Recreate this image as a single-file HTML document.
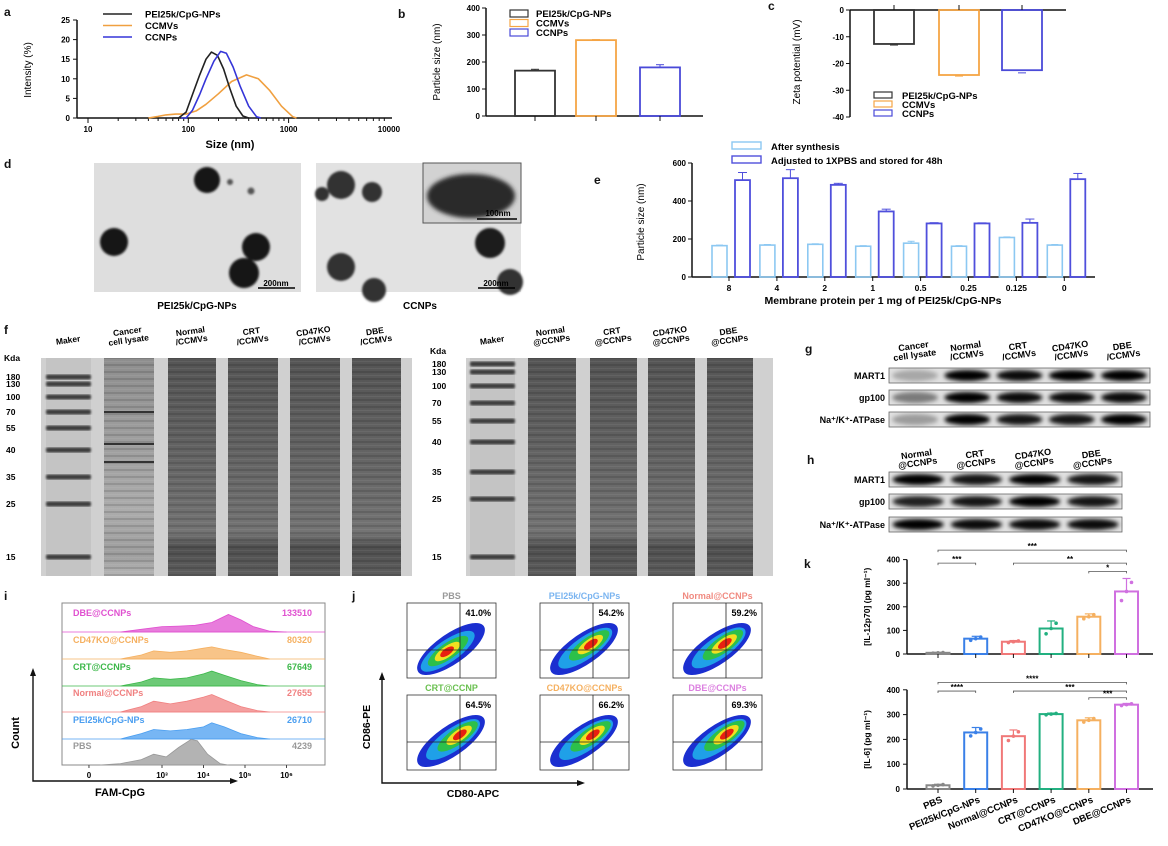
<!DOCTYPE html>
<html><head><meta charset="utf-8"><style>
html,body{margin:0;padding:0;background:#fff;width:1168px;height:846px;overflow:hidden}
svg{display:block;font-family:"Liberation Sans",Arial,sans-serif;font-weight:bold}
</style></head><body>
<svg id="fig" width="1168" height="846" viewBox="0 0 1168 846" xmlns="http://www.w3.org/2000/svg">
<defs>
<filter id="blur1"><feGaussianBlur stdDeviation="1"/></filter>
<filter id="blur2"><feGaussianBlur stdDeviation="2.2"/></filter>
<pattern id="stripes" width="6" height="7" patternUnits="userSpaceOnUse"><rect width="6" height="2" fill="#000" opacity="0.12"/><rect y="4" width="6" height="1" fill="#fff" opacity="0.06"/></pattern>
<linearGradient id="laneG" x1="0" y1="0" x2="0" y2="1"><stop offset="0" stop-color="#555"/><stop offset="0.4" stop-color="#626262"/><stop offset="0.8" stop-color="#747474"/><stop offset="0.87" stop-color="#505050"/><stop offset="1" stop-color="#5e5e5e"/></linearGradient>
<linearGradient id="lysG" x1="0" y1="0" x2="0" y2="1"><stop offset="0" stop-color="#8e8e8e"/><stop offset="0.7" stop-color="#acacac"/><stop offset="0.9" stop-color="#9e9e9e"/><stop offset="1" stop-color="#b4b4b4"/></linearGradient>
</defs>
<rect width="1168" height="846" fill="#fff"/>

<g font-size="12" fill="#111">
<text x="4" y="16">a</text><text x="398" y="18">b</text><text x="768" y="10">c</text>
<text x="4" y="168">d</text><text x="594" y="184">e</text><text x="4" y="334">f</text>
<text x="805" y="353">g</text><text x="807" y="464">h</text><text x="4" y="600">i</text>
<text x="352" y="600">j</text><text x="804" y="568">k</text>
</g>

<g id="pa"></g>
<g id="pb"></g>
<g id="pc"></g>

<g>
<rect x="94" y="163" width="207" height="129" fill="#dedede"/>
<g fill="#151515" filter="url(#blur1)">
<circle cx="207" cy="180" r="13"/><circle cx="114" cy="242" r="14"/><circle cx="256" cy="247" r="14"/><circle cx="244" cy="273" r="15"/><circle cx="230" cy="182" r="3" fill="#555"/><circle cx="251" cy="191" r="3.5" fill="#555"/>
</g>
<rect x="316" y="163" width="205" height="129" fill="#e2e2e2"/>
<g fill="#303030" filter="url(#blur1)">
<circle cx="341" cy="185" r="14"/><circle cx="322" cy="194" r="7"/><circle cx="372" cy="192" r="10"/><circle cx="490" cy="243" r="15" fill="#1c1c1c"/><circle cx="341" cy="267" r="14"/><circle cx="510" cy="282" r="13"/><circle cx="374" cy="290" r="12"/>
</g>
<rect x="423" y="163" width="98" height="60" fill="#d2d2d2" stroke="#555" stroke-width="1"/>
<ellipse cx="471" cy="196" rx="44" ry="22" fill="#2a2a2a" filter="url(#blur2)"/>
<line x1="477" y1="219" x2="517" y2="219" stroke="#000" stroke-width="1.5"/>
<text x="498" y="216" font-size="8" text-anchor="middle">100nm</text>
<line x1="258" y1="288" x2="295" y2="288" stroke="#000" stroke-width="1.5"/>
<text x="276" y="286" font-size="8" text-anchor="middle">200nm</text>
<line x1="478" y1="288" x2="515" y2="288" stroke="#000" stroke-width="1.5"/>
<text x="496" y="286" font-size="8" text-anchor="middle">200nm</text>
<text x="197" y="309" font-size="10" text-anchor="middle">PEI25k/CpG-NPs</text>
<text x="420" y="309" font-size="10" text-anchor="middle">CCNPs</text>
</g>

<g id="pe"></g>
<g id="pf"></g>
<g id="pg"></g>
<g id="pi"></g>
<g id="pj"></g>
<g id="pk"></g>
</svg>
<script>
const NS="http://www.w3.org/2000/svg";
function el(tag,attrs,parent,txt){const e=document.createElementNS(NS,tag);for(const k in attrs)e.setAttribute(k,attrs[k]);if(txt!==undefined)e.textContent=txt;parent.appendChild(e);return e;}
function pts(a){return a.map(p=>p[0].toFixed(1)+","+p[1].toFixed(1)).join(" ");}

const aBlackSize=[70,80,95,110,130,150,170,195,225,260,300,350,400];
const aBlackInt=[0,0,1.5,6,11,15,16.8,16,12.5,7.5,3,0.5,0];
const aBlueSize=[85,95,110,130,150,180,210,240,280,330,400,480,530];
const aBlueInt=[0,0,2,6,10,14.5,17,16.5,13,8,3,0.3,0];
const aOrangeSize=[40,50,60,75,95,120,150,200,270,380,500,650,850,1100,1200];
const aOrangeInt=[0,0.4,0.8,1,1,1.8,3.5,6.2,9.3,11,10,7,3,0.3,0];
const aYTicks=[0,5,10,15,20,25];
const aXTicks=[10,100,1000,10000];
(function(){
 const g=document.getElementById('pa');
 const X=v=>88+(Math.log10(v)-1)*100.3, Y=v=>118-v*(98/25);
 let ax=el('line',{x1:77,y1:20,x2:77,y2:118,stroke:'#111','stroke-width':1.5},g);
 
 
 let bx=el('line',{x1:77,y1:118,x2:392,y2:118,stroke:'#111','stroke-width':1.5},g);
 
 
 aYTicks.forEach(t=>{el('line',{x1:73,x2:77,y1:Y(t),y2:Y(t),stroke:'#111'},g);
  const tl=el('text',{x:70,y:Y(t)+3,'font-size':8,'text-anchor':'end'},g,t);
  
  });
 for(let d=10;d<10000;d*=10){for(let m=1;m<10;m++){const x=X(d*m);el('line',{x1:x,x2:x,y1:118,y2:m==1?123:121,stroke:'#111'},g);}}
 aXTicks.forEach(t=>{const tl=el('text',{x:X(t),y:132,'font-size':8,'text-anchor':'middle'},g,t);
  
  });
 const xt=el('text',{x:230,y:148,'font-size':11,'text-anchor':'middle'},g,'Size (nm)');
 
 
 const yt=el('text',{x:0,y:0,'font-size':10,'text-anchor':'middle','font-weight':'normal',transform:'translate(31,70) rotate(-90)'},g,'Intensity (%)');
 
 
 const series=[[aOrangeSize,aOrangeInt,'#f0a040','ccmvs'],[aBlackSize,aBlackInt,'#222','pei-nps'],[aBlueSize,aBlueInt,'#3535d8','ccnps']];
 series.forEach(s=>{const p=el('polyline',{points:pts(s[0].map((v,i)=>[X(v),Y(s[1][i])])),fill:'none',stroke:s[2],'stroke-width':1.6,'stroke-linejoin':'round'},g);
  
  });
 const leg=[['PEI25k/CpG-NPs','#222'],['CCMVs','#f0a040'],['CCNPs','#3535d8']];
 leg.forEach((l,i)=>{const y=14+i*11.5;el('line',{x1:103,x2:132,y1:y,y2:y,stroke:l[1],'stroke-width':1.6},g);
  const t=el('text',{x:145,y:y+3.5,'font-size':9.5},g,l[0]);
  
  });
})();

const bCats=['PEI25k/CpG-NPs','CCMVs','CCNPs'];
const bVals=[168,281,180];
const bErr=[5,2,10];
const bTicks=[0,100,200,300,400];
const bColors=['#333','#f5a545','#4a4ad8'];
(function(){
 const g=document.getElementById('pb');
 const Y=v=>116-v*(108/400);const cx=[535,596,660];
 el('line',{x1:486,y1:8,x2:486,y2:116,stroke:'#111','stroke-width':1.5},g);
 el('line',{x1:486,y1:116,x2:703,y2:116,stroke:'#111','stroke-width':1.5},g);
 bTicks.forEach(t=>{el('line',{x1:482,x2:486,y1:Y(t),y2:Y(t),stroke:'#111'},g);
  const tl=el('text',{x:480,y:Y(t)+3,'font-size':8,'text-anchor':'end'},g,t);
  
  });
 bVals.forEach((v,i)=>{const r=el('rect',{x:cx[i]-20,y:Y(v),width:40,height:116-Y(v),fill:'none',stroke:bColors[i],'stroke-width':1.8},g);
  
  
  el('line',{x1:cx[i],x2:cx[i],y1:Y(v),y2:Y(v+bErr[i]),stroke:bColors[i]},g);
  el('line',{x1:cx[i]-4,x2:cx[i]+4,y1:Y(v+bErr[i]),y2:Y(v+bErr[i]),stroke:bColors[i]},g);
  el('line',{x1:cx[i],x2:cx[i],y1:116,y2:121,stroke:'#111'},g);});
 const yt=el('text',{x:0,y:0,'font-size':10,'font-weight':'normal','text-anchor':'middle',transform:'translate(440,62) rotate(-90)'},g,'Particle size (nm)');
 
 
 bCats.forEach((c,i)=>{const y=10+i*9.5;el('rect',{x:510,y:y,width:18,height:7,fill:'none',stroke:bColors[i],'stroke-width':1.2},g);
  const t=el('text',{x:536,y:y+7,'font-size':9.5},g,c);
  
  });
})();

const cCats=['PEI25k/CpG-NPs','CCMVs','CCNPs'];
const cVals=[-12.7,-24.3,-22.5];
const cErr=[0.4,0.4,1];
const cTicks=[0,-10,-20,-30,-40];
(function(){
 const g=document.getElementById('pc');
 const Y=v=>10-v*(107/40);const cx=[894,959,1022];
 el('line',{x1:850,y1:10,x2:850,y2:117,stroke:'#111','stroke-width':1.5},g);
 el('line',{x1:850,y1:10,x2:1066,y2:10,stroke:'#111','stroke-width':1.5},g);
 cTicks.forEach(t=>{el('line',{x1:846,x2:850,y1:Y(t),y2:Y(t),stroke:'#111'},g);
  const tl=el('text',{x:844,y:Y(t)+3,'font-size':8,'text-anchor':'end'},g,t);
  
  });
 cVals.forEach((v,i)=>{const r=el('rect',{x:cx[i]-20,y:10,width:40,height:Y(v)-10,fill:'none',stroke:bColors[i],'stroke-width':1.8},g);
  
  
  el('line',{x1:cx[i]-4,x2:cx[i]+4,y1:Y(v-cErr[i]),y2:Y(v-cErr[i]),stroke:bColors[i]},g);
  el('line',{x1:cx[i],x2:cx[i],y1:5,y2:10,stroke:'#111'},g);});
 const yt=el('text',{x:0,y:0,'font-size':10,'font-weight':'normal','text-anchor':'middle',transform:'translate(800,62) rotate(-90)'},g,'Zeta potential (mV)');
 
 
 cCats.forEach((c,i)=>{const y=92+i*9;el('rect',{x:874,y:y,width:18,height:6,fill:'none',stroke:bColors[i],'stroke-width':1.2},g);
  const t=el('text',{x:902,y:y+7,'font-size':9.5},g,c);
  
  });
})();

const eCats=['8','4','2','1','0.5','0.25','0.125','0'];
const eAfter=[165,168,172,162,178,162,208,168];
const eAfterErr=[3,3,3,3,10,3,3,3];
const eStored=[510,520,485,345,282,282,285,515];
const eStoredErr=[40,45,8,12,4,3,20,30];
const eTicks=[0,200,400,600];
(function(){
 const g=document.getElementById('pe');
 const Y=v=>277-v*(114/600);const G=i=>729+i*47.9;
 el('line',{x1:692,y1:163,x2:692,y2:277,stroke:'#111','stroke-width':1.5},g);
 el('line',{x1:692,y1:277,x2:1095,y2:277,stroke:'#111','stroke-width':1.5},g);
 eTicks.forEach(t=>{el('line',{x1:688,x2:692,y1:Y(t),y2:Y(t),stroke:'#111'},g);
  const tl=el('text',{x:686,y:Y(t)+3,'font-size':8,'text-anchor':'end'},g,t);
  
  });
 eCats.forEach((c,i)=>{const x=G(i);
  const a=el('rect',{x:x-17,y:Y(eAfter[i]),width:15,height:277-Y(eAfter[i]),fill:'none',stroke:'#8cc8f2','stroke-width':1.6},g);
  
  
  el('line',{x1:x-9.5,x2:x-9.5,y1:Y(eAfter[i]),y2:Y(eAfter[i]+eAfterErr[i]),stroke:'#8cc8f2'},g);
  el('line',{x1:x-13,x2:x-6,y1:Y(eAfter[i]+eAfterErr[i]),y2:Y(eAfter[i]+eAfterErr[i]),stroke:'#8cc8f2'},g);
  const b=el('rect',{x:x+6,y:Y(eStored[i]),width:15,height:277-Y(eStored[i]),fill:'none',stroke:'#4f4fdc','stroke-width':1.8},g);
  
  
  el('line',{x1:x+13.5,x2:x+13.5,y1:Y(eStored[i]),y2:Y(eStored[i]+eStoredErr[i]),stroke:'#4f4fdc'},g);
  el('line',{x1:x+9,x2:x+18,y1:Y(eStored[i]+eStoredErr[i]),y2:Y(eStored[i]+eStoredErr[i]),stroke:'#4f4fdc'},g);
  el('line',{x1:x,x2:x,y1:277,y2:281,stroke:'#111'},g);
  const tl=el('text',{x:x,y:291,'font-size':8.5,'text-anchor':'middle'},g,c);
  
  });
 const xt=el('text',{x:883,y:304,'font-size':10.5,'text-anchor':'middle'},g,'Membrane protein per 1 mg of PEI25k/CpG-NPs');
 
 
 const yt=el('text',{x:0,y:0,'font-size':10,'font-weight':'normal','text-anchor':'middle',transform:'translate(644,222) rotate(-90)'},g,'Particle size (nm)');
 
 
 [['After synthesis','#8cc8f2'],['Adjusted to 1XPBS and stored for 48h','#4f4fdc']].forEach((l,i)=>{const y=142+i*14;
  el('rect',{x:732,y:y,width:29,height:7,fill:'none',stroke:l[1],'stroke-width':1.4},g);
  const t=el('text',{x:771,y:y+8,'font-size':9.5},g,l[0]);
  
  });
})();

const fMarkers=['180','130','100','70','55','40','35','25','15'];
(function(){
 const g=document.getElementById('pf');
 function gel(x0,x1,lanes,labels,mY,labX,kdaY){
  el('rect',{x:x0,y:358,width:x1-x0,height:218,fill:'#d0d0d0'},g);
  lanes.forEach((ln,i)=>{
   if(i===0){el('rect',{x:ln[0],y:358,width:ln[1]-ln[0],height:218,fill:'#c4c4c4'},g);
    mY.forEach(y=>{el('rect',{x:ln[0],y:y-2.5,width:ln[1]-ln[0],height:5,rx:2,fill:'#3c3c3c',filter:'url(#blur1)'},g);});}
   else{const lane=el('rect',{x:ln[0],y:358,width:ln[1]-ln[0],height:218,fill:ln[2]?'url(#lysG)':'url(#laneG)'},g);
    
    
    el('rect',{x:ln[0],y:358,width:ln[1]-ln[0],height:218,fill:'url(#stripes)'},g);
    if(ln[2]){[412,444,462].forEach(y=>el('rect',{x:ln[0],y:y-1,width:ln[1]-ln[0],height:2,fill:'#333'},g));}}
  });
  labels.forEach((l,i)=>{const c=(lanes[i][0]+lanes[i][1])/2;
   const t=el('text',{x:0,y:0,'font-size':8.5,'text-anchor':'middle',transform:'translate('+c+',343) rotate(-8)'},g);
   l.forEach((s,j)=>el('tspan',{x:0,dy:j?9:(l.length>1?-9:0)},t,s));
   
   });
  el('text',{x:labX,y:kdaY,'font-size':8.5},g,'Kda');
  fMarkers.forEach((m,i)=>{const t=el('text',{x:labX+2,y:mY[i]+3,'font-size':8.5},g,m);
   
   });
 }
 gel(41,412,[[46,91],[104,154,1],[168,216],[228,278],[290,340],[352,401]],
  [['Maker'],['Cancer','cell lysate'],['Normal','/CCMVs'],['CRT','/CCMVs'],['CD47KO','/CCMVs'],['DBE','/CCMVs']],
  [377,384,397,412,428,450,477,504,557],4,361);
 gel(466,773,[[470,515],[528,576],[590,637],[648,695],[707,753]],
  [['Maker'],['Normal','@CCNPs'],['CRT','@CCNPs'],['CD47KO','@CCNPs'],['DBE','@CCNPs']],
  [364,372,386,403,421,442,472,499,557],430,354);
})();

const gIntensity=[[0.25,1,0.95,1,1],[0.45,1,0.95,0.95,0.95],[0.3,1,0.9,0.9,1]];
const hIntensity=[[1,0.9,1,0.9],[0.85,0.9,1,0.9],[1,0.95,0.95,0.95]];
const blotRows=['MART1','gp100','Na\u207A/K\u207A-ATPase'];
(function(){
 const g=document.getElementById('pg');
 function blot(x0,x1,ys,inten,labels,labY){
  const n=inten[0].length,w=(x1-x0)/n;
  ys.forEach((y,r)=>{el('rect',{x:x0,y:y,width:x1-x0,height:15,fill:'#e0e0e0',stroke:'#666','stroke-width':0.8},g);
   const t=el('text',{x:x0-4,y:y+11,'font-size':9,'text-anchor':'end'},g,blotRows[r]);
   
   
   inten[r].forEach((v,i)=>{const b=el('ellipse',{cx:x0+w*(i+0.5),cy:y+7.5,rx:w*0.44,ry:5.5,fill:'#000',opacity:v,filter:'url(#blur2)'},g);
    
    });});
  labels.forEach((l,i)=>{const t=el('text',{x:0,y:0,'font-size':9,'text-anchor':'middle',transform:'translate('+(x0+w*(i+0.5))+','+labY+') rotate(-8)'},g);
   l.forEach((s,j)=>el('tspan',{x:0,dy:j?9:-9},t,s));
   
   });
 }
 blot(889,1150,[368,390,412],gIntensity,[['Cancer','cell lysate'],['Normal','/CCMVs'],['CRT','/CCMVs'],['CD47KO','/CCMVs'],['DBE','/CCMVs']],358);
 blot(889,1122,[472,494,517],hIntensity,[['Normal','@CCNPs'],['CRT','@CCNPs'],['CD47KO','@CCNPs'],['DBE','@CCNPs']],466);
})();

const iNames=['DBE@CCNPs','CD47KO@CCNPs','CRT@CCNPs','Normal@CCNPs','PEI25k/CpG-NPs','PBS'];
const iMFI=['133510','80320','67649','27655','26710','4239'];
const iColors=['#e050d0','#f5b060','#3cb84a','#f08080','#4a9ef0','#999999'];
const iLog=[[2,2.5,3,3.4,3.8,4.2,4.6,4.9,5.2,5.6,6],[2,2.5,2.8,3.2,3.6,4,4.2,4.5,4.9,5.3,5.6],[2,2.5,2.8,3.2,3.6,4,4.2,4.5,4.9,5.3,5.6],[2,2.5,2.8,3.2,3.6,4,4.2,4.5,4.9,5.3,5.6],[2,2.5,2.8,3.2,3.6,4,4.2,4.5,4.9,5.3,5.6],[1.5,2,2.5,2.8,3.1,3.4,3.7,3.85,4.1,4.4,4.6]];
const iHeight=[[0,0.1,0.2,0.22,0.25,0.35,0.65,0.45,0.2,0.03,0],[0,0.15,0.3,0.25,0.3,0.4,0.45,0.35,0.25,0.1,0],[0,0.15,0.3,0.25,0.3,0.45,0.55,0.4,0.2,0.05,0],[0,0.2,0.4,0.3,0.4,0.55,0.65,0.45,0.2,0.05,0],[0,0.2,0.35,0.3,0.35,0.45,0.6,0.45,0.2,0.05,0],[0,0.05,0.2,0.4,0.3,0.65,0.95,0.9,0.4,0.05,0]];
const iTicks=['0','10\u00B3','10\u2074','10\u2075','10\u2076'];
const iTickVals=[1.24,3,4,5,6];
(function(){
 const g=document.getElementById('pi');
 const X=u=>162+(u-3)*41.5;const base=[632,659,686,712,739,765];
 el('rect',{x:62,y:603,width:263,height:162,fill:'#fff',stroke:'#888','stroke-width':1},g);
 iNames.forEach((n,r)=>{const b=base[r];
  const poly=[[X(iLog[r][0]),b]].concat(iLog[r].map((u,k)=>[X(u),b-iHeight[r][k]*27]));poly.push([X(iLog[r][iLog[r].length-1]),b]);
  const p=el('polygon',{points:pts(poly),fill:iColors[r],'fill-opacity':0.75,stroke:iColors[r],'stroke-width':0.8},g);
  
  
  if(r<5)el('line',{x1:62,x2:325,y1:b,y2:b,stroke:iColors[r],'stroke-width':0.8},g);
  const t=el('text',{x:73,y:b-16,'font-size':9,fill:iColors[r]},g,n);
  
  
  const v=el('text',{x:312,y:b-16,'font-size':9,fill:iColors[r],'text-anchor':'end'},g,iMFI[r]);
  
  });
 iTicks.forEach((t,k)=>{const x=X(iTickVals[k]);el('line',{x1:x,x2:x,y1:765,y2:768,stroke:'#444'},g);
  const tl=el('text',{x:x,y:778,'font-size':8,'text-anchor':'middle'},g,t);
  
  });
 el('polyline',{points:'33,673 33,781 233,781',fill:'none',stroke:'#111','stroke-width':1.4},g);
 el('polygon',{points:'30,676 33,668 36,676',fill:'#111'},g);
 el('polygon',{points:'230,778 238,781 230,784',fill:'#111'},g);
 const yt=el('text',{x:0,y:0,'font-size':11,'text-anchor':'middle',transform:'translate(19,733) rotate(-90)'},g,'Count');
 
 
 const xt=el('text',{x:120,y:796,'font-size':11,'text-anchor':'middle'},g,'FAM-CpG');
 
 
})();

const jNames=['PBS','PEI25k/CpG-NPs','Normal@CCNPs','CRT@CCNP','CD47KO@CCNPs','DBE@CCNPs'];
const jPct=['41.0%','54.2%','59.2%','64.5%','66.2%','69.3%'];
const jNameColors=['#999','#7ab4f0','#f08a80','#6ac050','#f5b060','#dc80e0'];
const jShift=[-0.2,0.35,0.4,0.45,0.45,0.5];
(function(){
 const g=document.getElementById('pj');
 const cols=[407,540,673],rows=[603,695];
 jNames.forEach((n,k)=>{const x0=cols[k%3],y0=rows[Math.floor(k/3)],w=89,h=75;
  const cid='clip'+k;const cp=el('clipPath',{id:cid},g);el('rect',{x:x0,y:y0,width:w,height:h},cp);
  el('rect',{x:x0,y:y0,width:w,height:h,fill:'#fff',stroke:'#333','stroke-width':0.8},g);
  const qx=x0+53,qy=y0+47;const s=jShift[k];
  const gg=el('g',{'clip-path':'url(#'+cid+')',transform:'rotate(-35 '+(x0+44)+' '+(y0+46)+')'},g);
  
  
  el('ellipse',{cx:x0+44,cy:y0+46,rx:40,ry:15,fill:'#1b2fd0'},gg);
  el('ellipse',{cx:x0+42+s*10,cy:y0+46,rx:32,ry:11,fill:'#1fa0e8'},gg);
  el('ellipse',{cx:x0+44+s*18,cy:y0+46,rx:24,ry:8,fill:'#2cc04a'},gg);
  el('ellipse',{cx:x0+44+s*22,cy:y0+46,rx:15,ry:5.5,fill:'#f0e020'},gg);
  el('ellipse',{cx:x0+44+s*24,cy:y0+46,rx:8,ry:3.5,fill:'#e82010'},gg);
  el('line',{x1:qx,x2:qx,y1:y0,y2:y0+h,stroke:'#222','stroke-width':0.8},g);
  el('line',{x1:x0,x2:x0+w,y1:qy,y2:qy,stroke:'#222','stroke-width':0.8},g);
  const t=el('text',{x:x0+w/2,y:y0-4,'font-size':9,'text-anchor':'middle',fill:jNameColors[k]},g,n);
  
  
  const p=el('text',{x:x0+w-5,y:y0+13,'font-size':9,'text-anchor':'end'},g,jPct[k]);
  
  });
 el('polyline',{points:'382,677 382,783 580,783',fill:'none',stroke:'#111','stroke-width':1.4},g);
 el('polygon',{points:'379,680 382,672 385,680',fill:'#111'},g);
 el('polygon',{points:'577,780 585,783 577,786',fill:'#111'},g);
 const yt=el('text',{x:0,y:0,'font-size':10.5,'text-anchor':'middle',transform:'translate(370,727) rotate(-90)'},g,'CD86-PE');
 
 
 const xt=el('text',{x:473,y:797,'font-size':10.5,'text-anchor':'middle'},g,'CD80-APC');
 
 
})();

const kCats=['PBS','PEI25k/CpG-NPs','Normal@CCNPs','CRT@CCNPs','CD47KO@CCNPs','DBE@CCNPs'];
const kColors=['#888','#3a80e8','#f07878','#22b080','#f5b060','#d070e0'];
const kIL12=[5,65,52,108,158,265];
const kIL12Err=[2,10,5,32,12,55];
const kIL6=[15,228,213,302,277,340];
const kIL6Err=[4,20,25,4,10,5];
const kTicks=[0,100,200,300,400];
(function(){
 const g=document.getElementById('pk');
 const C=i=>938+i*37.7;
 function chart(y0,pxPer100,vals,errs,title,sig){
  const Y=v=>y0-v*pxPer100/100;
  el('line',{x1:907,y1:Y(400),x2:907,y2:y0,stroke:'#111','stroke-width':1.5},g);
  el('line',{x1:907,y1:y0,x2:1153,y2:y0,stroke:'#111','stroke-width':1.5},g);
  kTicks.forEach(t=>{el('line',{x1:903,x2:907,y1:Y(t),y2:Y(t),stroke:'#111'},g);
   const tl=el('text',{x:900,y:Y(t)+3,'font-size':8,'text-anchor':'end'},g,t);
   
   });
  vals.forEach((v,i)=>{const x=C(i);
   const r=el('rect',{x:x-11.5,y:Y(v),width:23,height:y0-Y(v),fill:'none',stroke:kColors[i],'stroke-width':2},g);
   
   
   el('line',{x1:x,x2:x,y1:Y(v),y2:Y(v+errs[i]),stroke:kColors[i],'stroke-width':1.2},g);
   el('line',{x1:x-4,x2:x+4,y1:Y(v+errs[i]),y2:Y(v+errs[i]),stroke:kColors[i],'stroke-width':1.2},g);
   [-5,0,5].forEach((d,j)=>el('circle',{cx:x+d,cy:Y(v+(j-1)*errs[i]*0.7),r:1.8,fill:kColors[i]},g));
   el('line',{x1:x,x2:x,y1:y0,y2:y0+4,stroke:'#111'},g);});
  sig.forEach(s=>{const y=Y(s[2]);el('polyline',{points:C(s[0])+','+(y+2)+' '+C(s[0])+','+y+' '+C(s[1])+','+y+' '+C(s[1])+','+(y+2),fill:'none',stroke:'#555','stroke-width':0.8},g);
   const t=el('text',{x:(C(s[0])+C(s[1]))/2,y:y-1,'font-size':8,'text-anchor':'middle'},g,s[3]);
   
   });
  const yt=el('text',{x:0,y:0,'font-size':8.5,'text-anchor':'middle',transform:'translate(870,'+Y(200)+') rotate(-90)'},g,title);
  
  
 }
 chart(654,23.6,kIL12,kIL12Err,'[IL-12p70] (pg ml\u207B\u00B9)',[[0,1,385,'***'],[0,5,440,'***'],[2,5,385,'**'],[4,5,350,'*']]);
 chart(789,24.8,kIL6,kIL6Err,'[IL-6] (pg ml\u207B\u00B9)',[[0,5,430,'****'],[0,1,395,'****'],[2,5,395,'***'],[4,5,368,'***']]);
 kCats.forEach((c,i)=>{const t=el('text',{x:0,y:0,'font-size':9.5,'text-anchor':'end',transform:'translate('+(C(i)+5)+',802) rotate(-22)'},g,c);
  
  });
})();
</script>
</body></html>
